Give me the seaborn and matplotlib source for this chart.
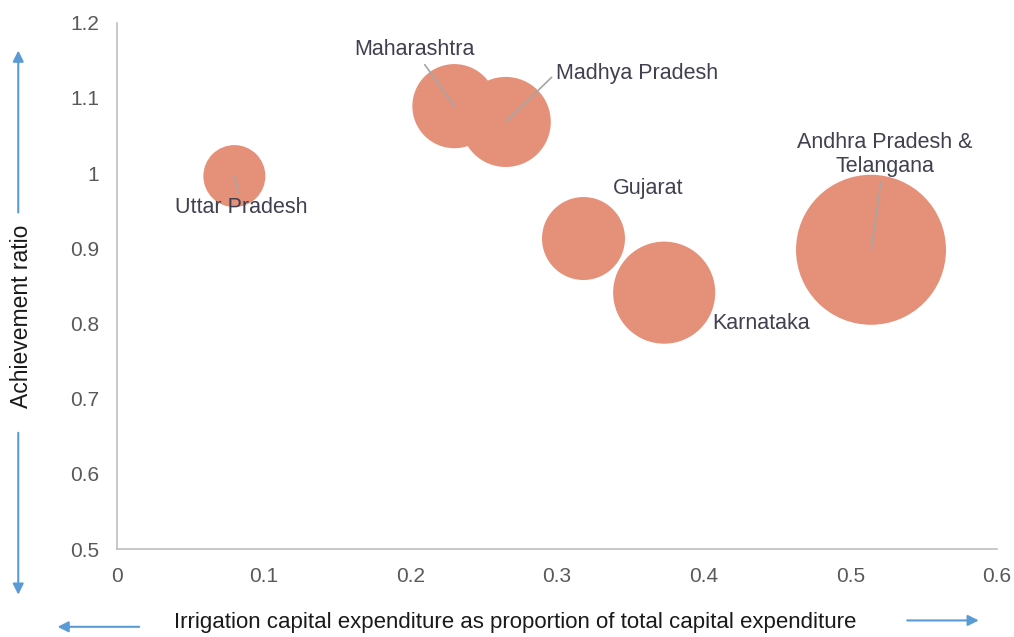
import matplotlib
matplotlib.use('Agg')
import matplotlib.pyplot as plt
import pandas as pd
import seaborn as sns

# Data
states = ['Uttar Pradesh', 'Maharashtra', 'Madhya Pradesh', 'Gujarat',
          'Karnataka', 'Andhra Pradesh &\nTelangana']
capex_share = [0.080, 0.230, 0.265, 0.318, 0.373, 0.514]
achievement = [0.996, 1.089, 1.068, 0.913, 0.841, 0.898]
bubble_size = [1.00, 1.84, 2.11, 1.79, 2.71, 5.85]

df = pd.DataFrame({'state': states, 'x': capex_share,
                   'y': achievement, 'size': bubble_size})

sns.set_style('white')
plt.rcParams['font.family'] = ['Liberation Sans', 'DejaVu Sans']

fig = plt.figure(figsize=(10.14, 6.37), dpi=100)
ax = fig.add_axes([0.1154, 0.138, 0.868, 0.8264])

bubble_color = '#E59079'
sns.scatterplot(data=df, x='x', y='y', size='size', ax=ax,
                sizes=(0, 11664), size_norm=(0, max(bubble_size)),
                color=bubble_color, edgecolor='none', alpha=1,
                legend=False, zorder=3)

# Axes layout
ax.set_xlim(0, 0.6)
ax.set_ylim(0.5, 1.2)
ax.set_xticks([0, 0.1, 0.2, 0.3, 0.4, 0.5, 0.6])
ax.set_xticklabels(['0', '0.1', '0.2', '0.3', '0.4', '0.5', '0.6'])
ax.set_yticks([0.5, 0.6, 0.7, 0.8, 0.9, 1.0, 1.1, 1.2])
ax.set_yticklabels(['0.5', '0.6', '0.7', '0.8', '0.9', '1', '1.1', '1.2'])
ax.tick_params(axis='both', length=0, labelsize=15, labelcolor='#595959')
ax.tick_params(axis='x', pad=13)
ax.tick_params(axis='y', pad=13)
ax.spines['top'].set_visible(False)
ax.spines['right'].set_visible(False)
for side in ['left', 'bottom']:
    ax.spines[side].set_color('#BFBFBF')
    ax.spines[side].set_linewidth(1.2)
ax.set_xlabel('')
ax.set_ylabel('')

# Data labels with leader lines (text x, text y, leader, leader start on text)
label_pos = {
    'Uttar Pradesh': (0.085, 0.954, True, (0.5, 0.5)),
    'Maharashtra': (0.2025, 1.164, True, (0.5, 0.5)),
    'Madhya Pradesh': (0.3545, 1.133, True, (0.0, 0.5)),
    'Gujarat': (0.362, 0.979, False, None),
    'Karnataka': (0.439, 0.800, False, None),
    'Andhra Pradesh &\nTelangana': (0.5235, 1.025, True, (0.5, 0.5)),
}
for name, x, y in zip(states, capex_share, achievement):
    tx, ty, leader, rel = label_pos[name]
    props = None
    if leader:
        props = dict(arrowstyle='-', color='#A6A6A6', lw=1.2,
                     shrinkA=1, shrinkB=0, relpos=rel)
    ax.annotate(name, xy=(x, y), xytext=(tx, ty), ha='center', va='center',
                fontsize=15.5, color='#404050', linespacing=1.2,
                arrowprops=props, zorder=4)

# Axis titles with arrows
arrow_col = '#5B9BD5'
fig.text(0.508, 0.022, 'Irrigation capital expenditure as proportion of total capital expenditure',
         ha='center', va='center', fontsize=16, color='#1a1a1a')
fig.text(0.021, 0.503, 'Achievement ratio', rotation=90,
         ha='center', va='center', fontsize=16.5, color='#1a1a1a')
ap = dict(arrowstyle='-|>', color=arrow_col, lw=1.5, mutation_scale=16)
ax.annotate('', xy=(0.054, 0.016), xytext=(0.140, 0.016),
            xycoords='figure fraction', textcoords='figure fraction', arrowprops=ap)
ax.annotate('', xy=(0.968, 0.026), xytext=(0.892, 0.026),
            xycoords='figure fraction', textcoords='figure fraction', arrowprops=ap)
ax.annotate('', xy=(0.018, 0.925), xytext=(0.018, 0.662),
            xycoords='figure fraction', textcoords='figure fraction', arrowprops=ap)
ax.annotate('', xy=(0.018, 0.062), xytext=(0.018, 0.325),
            xycoords='figure fraction', textcoords='figure fraction', arrowprops=ap)

fig.savefig('out.png', dpi=100)
